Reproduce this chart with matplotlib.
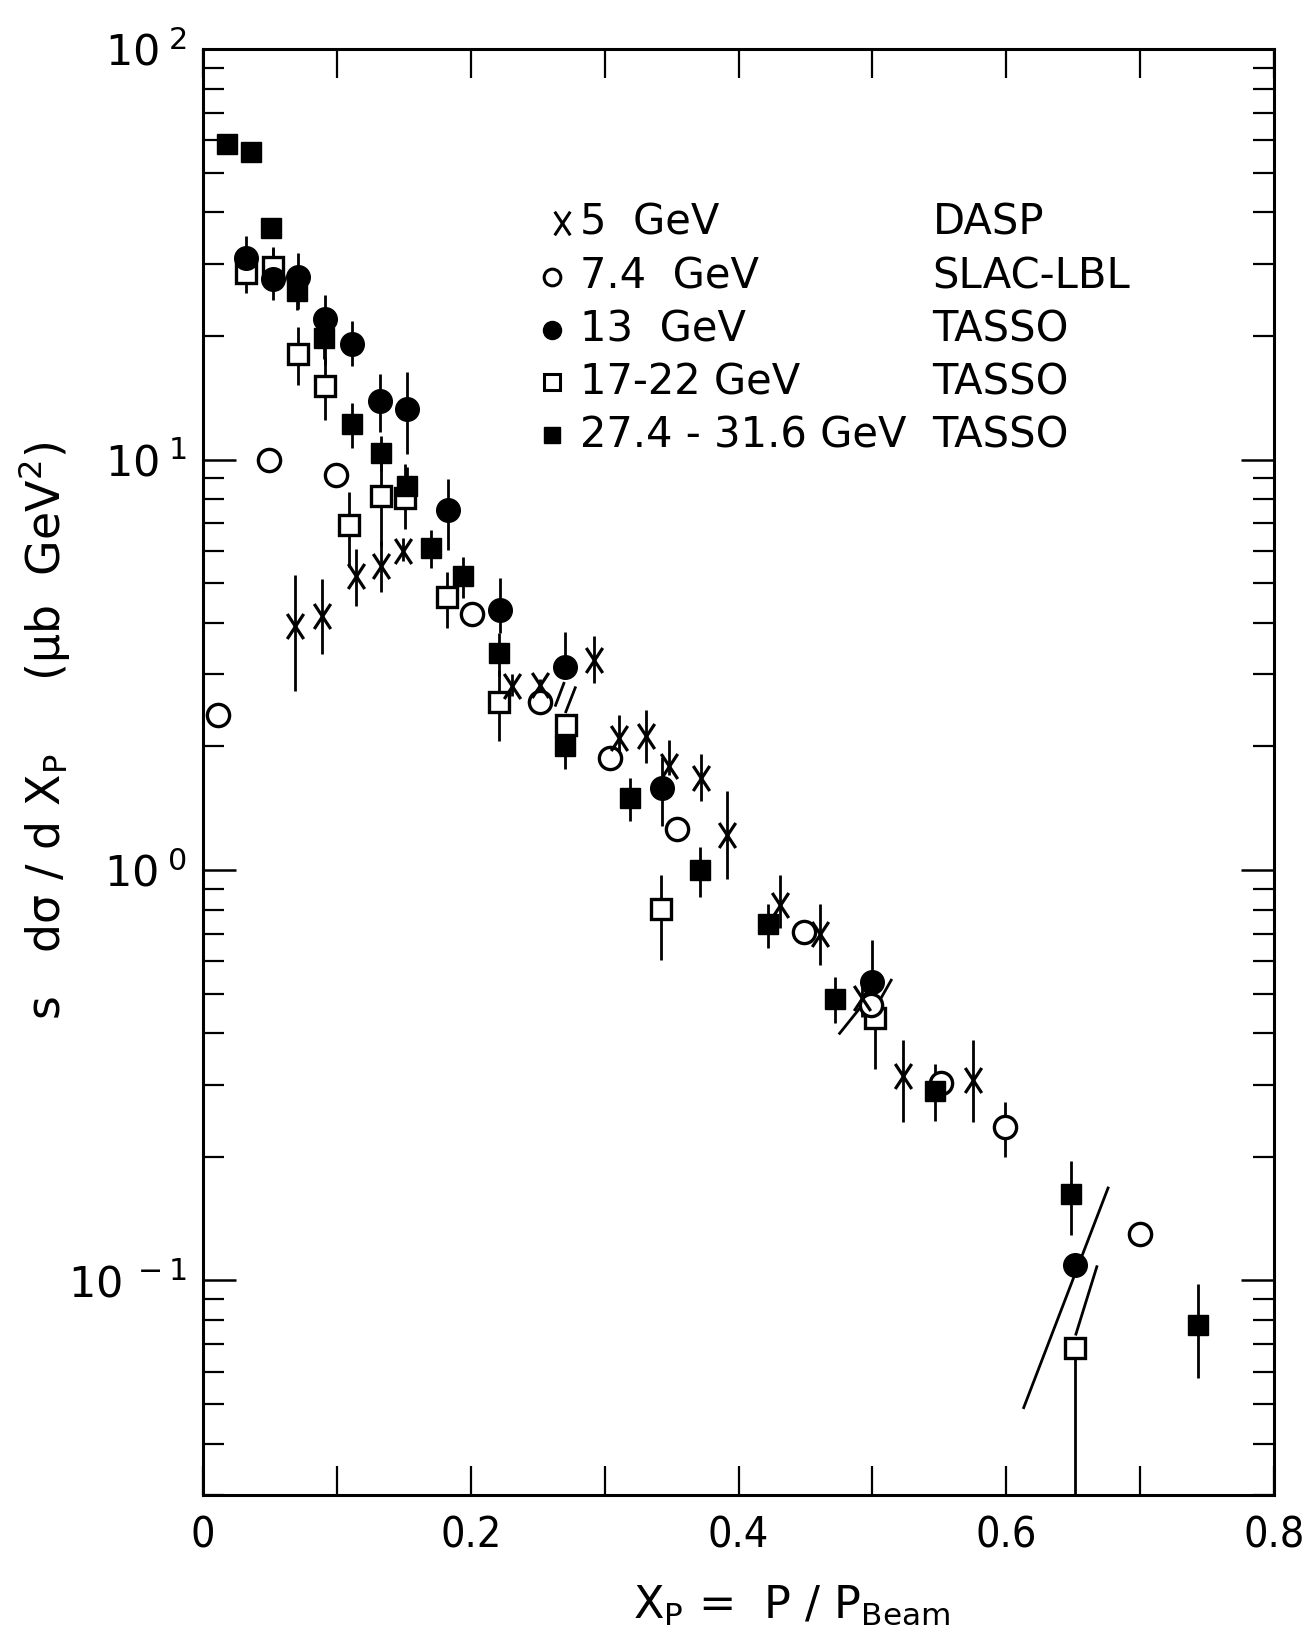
import numpy as np
import matplotlib
matplotlib.use('Agg')
import matplotlib.pyplot as plt
from matplotlib import ticker
from matplotlib.path import Path

# 5 GeV (DASP)
x5 = [0.069, 0.089, 0.114, 0.133, 0.149, 0.231, 0.252, 0.292, 0.311, 0.331, 0.348, 0.372, 0.391, 0.431, 0.461, 0.492, 0.523, 0.575]
y5 = [3.93, 4.16, 5.19, 5.50, 6.00, 2.80, 2.82, 3.24, 2.10, 2.12, 1.79, 1.68, 1.22, 0.824, 0.697, 0.488, 0.315, 0.308]
lo5 = [1.20, 0.80, 0.78, 0.75, 0.35, 0.15, 0.10, 0.39, 0.28, 0.30, 0.09, 0.21, 0.27, 0.10, 0.11, 0.05, 0.072, 0.065]
hi5 = [1.30, 0.97, 0.86, 0.84, 0.45, 0.20, 0.10, 0.48, 0.28, 0.33, 0.28, 0.24, 0.34, 0.15, 0.13, 0.05, 0.071, 0.077]

# 7.4 GeV (SLAC-LBL)
x74 = [0.011, 0.049, 0.099, 0.201, 0.252, 0.304, 0.354, 0.449, 0.499, 0.551, 0.599, 0.700]
y74 = [2.38, 9.96, 9.18, 4.21, 2.57, 1.87, 1.26, 0.705, 0.469, 0.302, 0.236, 0.130]
e74 = [0, 0, 0, 0, 0, 0, 0, 0, 0, 0, 0.036, 0]

# 13 GeV (TASSO)
x13 = [0.032, 0.052, 0.071, 0.091, 0.111, 0.132, 0.152, 0.183, 0.222, 0.270, 0.343, 0.500, 0.651]
y13 = [31.0, 27.5, 27.8, 22.0, 19.1, 13.9, 13.3, 7.53, 4.29, 3.13, 1.58, 0.535, 0.109]
lo13 = [4.0, 3.0, 4.5, 5.0, 2.2, 2.2, 3.0, 1.5, 0.5, 0.0, 0.30, 0.0, 0.0]
hi13 = [4.0, 5.5, 4.0, 3.2, 2.6, 2.3, 3.0, 1.45, 0.85, 0.67, 0.30, 0.14, 0.0]

# 17-22 GeV (TASSO)
x17 = [0.032, 0.052, 0.071, 0.091, 0.109, 0.133, 0.151, 0.182, 0.221, 0.271, 0.342, 0.502, 0.651]
y17 = [28.5, 29.5, 18.1, 15.1, 6.92, 8.16, 8.07, 4.63, 2.57, 2.25, 0.805, 0.437, 0.0686]
lo17 = [3.0, 3.0, 2.9, 2.6, 1.45, 2.0, 1.3, 0.75, 0.51, 0.2, 0.20, 0.11, 0.068]
hi17 = [3.0, 3.0, 2.9, 2.7, 1.40, 2.0, 1.7, 0.70, 0.50, 0.0, 0.17, 0.0, 0.0]

# 27.4-31.6 GeV (TASSO)
x27 = [0.018, 0.036, 0.051, 0.070, 0.090, 0.111, 0.133, 0.152, 0.170, 0.194, 0.221, 0.270, 0.319, 0.371, 0.422, 0.472, 0.547, 0.648, 0.743]
y27 = [58.7, 56.1, 36.6, 25.7, 19.8, 12.2, 10.4, 8.6, 6.1, 5.19, 3.37, 2.01, 1.50, 1.0, 0.737, 0.486, 0.29, 0.162, 0.078]
e27 = [0, 0, 0, 2.5, 2.2, 1.5, 1.0, 1.0, 0.65, 0.6, 0.4, 0.25, 0.18, 0.14, 0.09, 0.062, 0.046, 0.033, 0.020]

# slanted error bars drawn in the original
slant_x = [(0.2633, 0.2695), (0.271, 0.278), (0.4755, 0.4925), (0.5065, 0.514), (0.613, 0.676), (0.652, 0.6676)]
slant_y = [(2.52, 2.85), (2.43, 2.78), (0.40, 0.469), (0.488, 0.539), (0.049, 0.168), (0.074, 0.108)]

legend_energy = ['5  GeV', '7.4  GeV', '13  GeV', '17-22 GeV', '27.4 - 31.6 GeV']
legend_group = ['DASP', 'SLAC-LBL', 'TASSO', 'TASSO', 'TASSO']

plt.rcParams['font.family'] = ['DejaVu Sans']
plt.rcParams['mathtext.fontset'] = 'dejavusans'

# tall letter X used as marker
xmark = Path([(-0.33, -0.5), (0.33, 0.5), (-0.33, 0.5), (0.33, -0.5)],
             [Path.MOVETO, Path.LINETO, Path.MOVETO, Path.LINETO])

fig = plt.figure(figsize=(13.05, 16.32), dpi=100)
ax = fig.add_axes([0.1556, 0.0839, 0.8207, 0.886])

eb = dict(fmt='none', ecolor='black', elinewidth=2.0, capsize=0, zorder=2)
ax.errorbar(x5, y5, yerr=[lo5, hi5], **eb)
ax.errorbar(x74, y74, yerr=e74, **eb)
ax.errorbar(x13, y13, yerr=[lo13, hi13], **eb)
ax.errorbar(x17, y17, yerr=[lo17, hi17], **eb)
ax.errorbar(x27, y27, yerr=e27, **eb)

for sx, sy in zip(slant_x, slant_y):
    ax.plot(sx, sy, color='black', lw=2.0, zorder=2)

ax.plot(x17, y17, 's', ms=15, mfc='white', mec='black', mew=2.4, ls='none', zorder=3)
ax.plot(x74, y74, 'o', ms=16, mfc='white', mec='black', mew=2.4, ls='none', zorder=3)
ax.plot(x5, y5, marker=xmark, ms=18, mec='black', mew=2.3, ls='none', zorder=4)
ax.plot(x13, y13, 'o', ms=17, mfc='black', mec='black', ls='none', zorder=4)
ax.plot(x27, y27, 's', ms=15, mfc='black', mec='black', ls='none', zorder=4)

# legend written by hand (two text columns)
rows = [0.8800, 0.8425, 0.8060, 0.7695, 0.7330]
styles = [dict(marker=xmark, ms=17, mec='black', mew=2.2),
          dict(marker='o', ms=12, mfc='white', mec='black', mew=2.2),
          dict(marker='o', ms=13, mfc='black', mec='black'),
          dict(marker='s', ms=11, mfc='white', mec='black', mew=2.2),
          dict(marker='s', ms=11, mfc='black', mec='black')]
for i in range(5):
    mx = 0.335 if i == 0 else 0.326
    ax.plot([mx], [rows[i]], transform=ax.transAxes, ls='none', **styles[i])
    ax.text(0.352, rows[i], legend_energy[i], transform=ax.transAxes,
            fontsize=30, va='center')
    ax.text(0.681, rows[i], legend_group[i], transform=ax.transAxes,
            fontsize=30, va='center')

ax.set_yscale('log')
ax.set_ylim(0.03, 100)
ax.set_xlim(0, 0.8)

ax.set_xticks([0, 0.2, 0.4, 0.6, 0.8])
xlabels = ax.set_xticklabels(['0', '0.2', '0.4', '0.6', '0.8'])
for lbl in xlabels:
    lbl.set_fontstretch('condensed')
ax.set_xticks([0.1, 0.3, 0.5, 0.7], minor=True)
ax.yaxis.set_major_formatter(ticker.FuncFormatter(lambda v, p: r'$10^{\;%d}$' % round(np.log10(v))))
ax.yaxis.set_minor_formatter(ticker.NullFormatter())

ax.tick_params(axis='x', which='both', direction='in', top=True, length=21, width=1.6,
               labelsize=31, pad=14)
ax.tick_params(axis='y', which='major', direction='in', right=True, length=24, width=1.8,
               labelsize=31, pad=12)
ax.tick_params(axis='y', which='minor', direction='in', right=True, length=15, width=1.6)
for s in ax.spines.values():
    s.set_linewidth(2.2)

fig.text(0.034, 0.552, 's   dσ / d X$_\\mathrm{P}$     (μb  GeV$^2$)',
         rotation=90, fontsize=33, ha='center', va='center')
fig.text(0.607, 0.0085, r'X$_\mathrm{P}$ =  P / P$_\mathrm{Beam}$', fontsize=32,
         ha='center', va='baseline')

fig.savefig('out.png', dpi=100)
